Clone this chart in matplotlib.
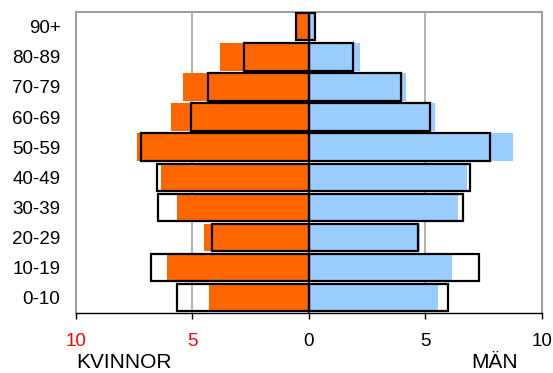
import matplotlib
matplotlib.use("Agg")
import matplotlib.pyplot as plt
import numpy as np

plt.rcParams['font.family'] = ['Liberation Sans', 'DejaVu Sans']

ages = ["0-10", "10-19", "20-29", "30-39", "40-49", "50-59", "60-69", "70-79", "80-89", "90+"]
women = [4.27, 6.07, 4.48, 5.64, 6.33, 7.36, 5.90, 5.38, 3.79, 0.53]
women_ref = [5.66, 6.77, 4.15, 6.45, 6.51, 7.18, 5.07, 4.34, 2.76, 0.53]
men = [5.53, 6.13, 4.77, 6.39, 6.79, 8.75, 5.40, 4.16, 2.18, 0.26]
men_ref = [5.97, 7.31, 4.67, 6.63, 6.91, 7.77, 5.20, 3.94, 1.91, 0.27]
xticks = [-10, -5, 0, 5, 10]
xticklabels = ["10", "5", "0", "5", "10"]
xtickcolors = ["red", "red", "black", "black", "black"]

fig = plt.figure(figsize=(5.53, 3.73), dpi=100)
ax = fig.add_axes([0.1369, 0.1617, 0.843, 0.807])

y = np.arange(len(ages))
h = 0.91
ax.barh(y, -np.array(women), height=h, color="#FF6600", zorder=2)
ax.barh(y, men, height=h, color="#99CCFF", zorder=2)
ax.barh(y, -np.array(women_ref), height=h, facecolor="none", edgecolor="black", linewidth=1.6, zorder=3)
ax.barh(y, men_ref, height=h, facecolor="none", edgecolor="black", linewidth=1.6, zorder=3)
ax.axvline(0, color="black", linewidth=1.2, zorder=4)
for gx in [-5, 5]:
    ax.axvline(gx, color="#A6A6A6", linewidth=1.2, zorder=1)

ax.set_xlim(-10, 10)
ax.set_ylim(-0.5, 9.5)
ax.set_yticks(y)
ax.set_yticklabels(ages, fontsize=13.5)
ax.tick_params(axis="y", length=0, pad=11)
ax.set_xticks(xticks)
ax.set_xticklabels(xticklabels, fontsize=13.5)
for lab, c in zip(ax.get_xticklabels(), xtickcolors):
    lab.set_color(c)
ax.tick_params(axis="x", length=4.5, width=1, direction="out", pad=10, color="black")

for s in ["top", "left", "right"]:
    ax.spines[s].set_color("#A0A0A0")
    ax.spines[s].set_linewidth(1.5)
ax.spines["bottom"].set_color("black")
ax.spines["bottom"].set_linewidth(1)

fig.text(76 / 553, 1 / 373, "KVINNOR", fontsize=15, ha="left", va="bottom")
fig.text(471 / 553, 1 / 373, "MÄN", fontsize=15, ha="left", va="bottom")

fig.savefig("out.png", dpi=100)
